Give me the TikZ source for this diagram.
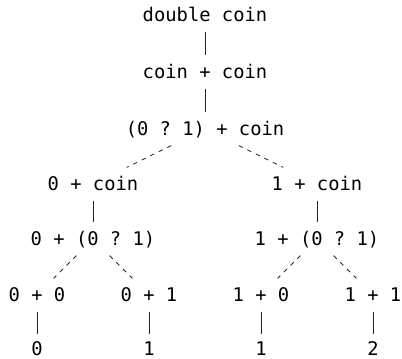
\documentclass[tikz,border=0pt]{standalone}
\usepackage{fontspec}
\setmonofont{DejaVu Sans Mono}
\begin{document}
\begin{tikzpicture}[x=1pt,y=-1pt,
  term/.style={font=\ttfamily\fontsize{18.8}{22}\selectfont, text height=13.7pt, text depth=0pt, inner ysep=9.5pt, inner xsep=2pt},
  result/.style={term, inner ysep=1pt},
  solidedge/.style={draw, line width=0.8pt, black!85},
  resultedge/.style={solidedge, shorten >=6.5pt},
  dashedge/.style={solidedge, line width=0.8pt, dash pattern=on 4.5pt off 5pt}]
\useasboundingbox (0,0) rectangle (402,359);
\node[term] (dc) at (205,15) {double coin};
\node[term] (cc) at (205,72) {coin + coin};
\node[term] (q) at (205,129) {(0 ? 1) + coin};
\node[term] (l1) at (93,184) {0 + coin};
\node[term] (r1) at (317,184) {1 + coin};
\node[term] (l2) at (93,239) {0 + (0 ? 1)};
\node[term] (r2) at (317,239) {1 + (0 ? 1)};
\node[term] (a) at (37,295) {0 + 0};
\node[term] (b) at (149,295) {0 + 1};
\node[term] (c) at (261,295) {1 + 0};
\node[term] (d) at (373,295) {1 + 1};
\node[result] (av) at (37,348.5) {0};
\node[result] (bv) at (149,348.5) {1};
\node[result] (cv) at (261,348.5) {1};
\node[result] (dv) at (373,348.5) {2};
\draw[solidedge] (dc) -- (cc);
\draw[solidedge] (cc) -- (q);
\draw[dashedge] (q) -- (l1);
\draw[dashedge] (q) -- (r1);
\draw[solidedge] (l1) -- (l2);
\draw[solidedge] (r1) -- (r2);
\draw[dashedge] (l2) -- (a);
\draw[dashedge] (l2) -- (b);
\draw[dashedge] (r2) -- (c);
\draw[dashedge] (r2) -- (d);
\draw[resultedge] (a) -- (av);
\draw[resultedge] (b) -- (bv);
\draw[resultedge] (c) -- (cv);
\draw[resultedge] (d) -- (dv);
\end{tikzpicture}
\end{document}
